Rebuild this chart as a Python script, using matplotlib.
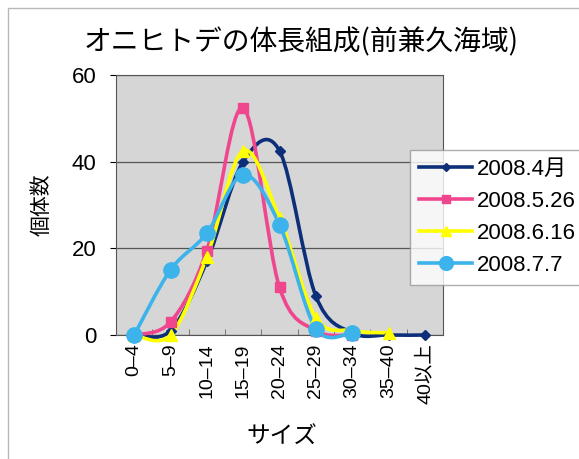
import numpy as np
import matplotlib
matplotlib.use('Agg')
import matplotlib.pyplot as plt
from matplotlib.path import Path
from matplotlib.patches import PathPatch, Rectangle
from matplotlib.lines import Line2D

plt.rcParams['font.family'] = ['Noto Sans CJK JP', 'DejaVu Sans']

sizes = ['0–4', '5–9', '10–14', '15–19', '20–24', '25–29', '30–34', '35–40', '40以上']
apr = [0, 1, 17, 40, 42.5, 9, 0.5, 0, 0]
may26 = [0, 3, 19.5, 52.4, 11, 1, 0]
jun16 = [0, 0, 18, 42.5, 27, 4, 1, 0.5]
jul7 = [0, 15, 23.5, 37, 25.5, 1.5, 0.5]

series = [
    ('2008.4月', apr, '#0d2f7a', 'D', 5),
    ('2008.5.26', may26, '#f0468e', 's', 7),
    ('2008.6.16', jun16, '#ffff00', '^', 8),
    ('2008.7.7', jul7, '#3cb3ea', 'o', 11),
]


def smooth_path(xs, ys):
    # Excel-like smoothed line: Catmull-Rom segments as cubic Beziers
    pts = np.column_stack([xs, ys]).astype(float)
    verts = [pts[0]]
    codes = [Path.MOVETO]
    n = len(pts)
    for i in range(n - 1):
        p0 = pts[max(i - 1, 0)]
        p1 = pts[i]
        p2 = pts[i + 1]
        p3 = pts[min(i + 2, n - 1)]
        c1 = p1 + (p2 - p0) / 6
        c2 = p2 - (p3 - p1) / 6
        verts += [c1, c2, p2]
        codes += [Path.CURVE4] * 3
    return Path(verts, codes)


fig = plt.figure(figsize=(5.79, 4.59), dpi=100)
fig.patches.append(Rectangle((8 / 579, -0.1), 1.2, 1 - 8 / 459 + 0.1,
                             transform=fig.transFigure, fill=False,
                             edgecolor='#b8b8b8', linewidth=1))
ax = fig.add_axes([116 / 579, 1 - 335 / 459, 327 / 579, 260 / 459])
ax.set_facecolor('#d6d6d6')

handles = []
for name, vals, col, mk, ms in series:
    x = np.arange(len(vals))
    ax.add_patch(PathPatch(smooth_path(x, vals), fill=False, edgecolor=col,
                           linewidth=2.6, zorder=3, clip_on=False))
    ax.plot(x, vals, linestyle='none', marker=mk, markersize=ms, color=col,
            zorder=4, clip_on=False)
    handles.append(Line2D([], [], color=col, linewidth=2.6, marker=mk,
                          markersize=ms * 0.9))

ax.set_xlim(-0.5, len(sizes) - 0.5)
ax.set_ylim(0, 60)
ax.set_yticks([0, 20, 40, 60])
ax.yaxis.grid(True, color='#555555', linewidth=0.9)
ax.set_axisbelow(True)
ax.set_xticks(np.arange(len(sizes)))
ax.set_xticklabels(sizes, rotation=90, fontsize=14,
                   family=['Liberation Sans', 'Noto Sans CJK JP'])
ax.tick_params(axis='x', length=0, pad=6)
ax.set_xticks(np.arange(len(sizes) + 1) - 0.5, minor=True)
ax.tick_params(axis='x', which='minor', length=4, direction='in', color='#666666')
ax.tick_params(axis='y', labelsize=16, length=4, direction='out', pad=10)
for lab in ax.get_yticklabels():
    lab.set_family(['Liberation Sans', 'DejaVu Sans'])
for s in ax.spines.values():
    s.set_color('#555555')

fig.text(301 / 579, 1 - 42 / 459, 'オニヒトデの体長組成(前兼久海域)', ha='center',
         va='center', fontsize=20)
fig.text(42 / 579, 1 - 205 / 459, '個体数', rotation=90, ha='center',
         va='center', fontsize=15)
fig.text(282 / 579, 1 - 437 / 459, 'サイズ', ha='center', va='center',
         fontsize=17)

leg = fig.legend(handles, [s[0] for s in series], loc='upper left',
                 bbox_to_anchor=(410 / 579, 1 - 150 / 459),
                 prop={'family': ['Liberation Sans', 'Noto Sans CJK JP'], 'size': 16},
                 frameon=True, fancybox=False, handlelength=2.4,
                 handletextpad=0.2, labelspacing=0.5, borderpad=0.4,
                 borderaxespad=0)
leg.get_frame().set_edgecolor('#999999')
leg.get_frame().set_linewidth(1)

fig.savefig('out.png', dpi=100, facecolor='white')
